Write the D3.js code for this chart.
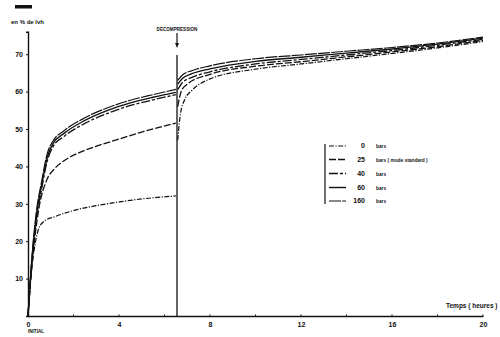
<!DOCTYPE html>
<html><head><meta charset="utf-8">
<script src="https://cdn.jsdelivr.net/npm/d3@7"></script>
<style>
body{margin:0;background:#fff;}
svg{display:block;}
text{font-family:"Liberation Sans",Arial,sans-serif;font-weight:bold;fill:#111;}
</style></head><body>
<svg id="c" width="500" height="337"></svg>
<script>
// ---- data ----
const seriesNames = ["0", "25", "40", "60", "160"];
const seriesUnits = ["bars", "bars  ( mode standard )", "bars", "bars", "bars"];
const decompressionTime = 6.55;
// phase 1 (before decompression)
const p1_0   = [[0,0],[0.12,10],[0.28,18],[0.45,23],[0.7,25.3],[1.2,26.6],[2,28.2],[3,29.5],[4,30.5],[5,31.3],[6.5,32.1]];
const p1_25  = [[0,0],[0.15,12],[0.32,22],[0.5,29.5],[0.8,36],[1.2,39.6],[1.6,41.6],[2,43],[2.5,44.3],[3,45.4],[4,47.3],[5,49.2],[6.5,51.6]];
const p1_40  = [[0,0],[0.15,13],[0.35,25],[0.6,34],[0.85,41.5],[1.1,45.3],[1.6,48.1],[2.5,51.5],[3.5,54.2],[4.5,56.3],[5.5,57.8],[6.5,59.2]];
const p1_60  = [[0,0],[0.15,13.5],[0.35,26],[0.6,35],[0.85,42.5],[1.1,46.1],[1.6,48.9],[2.5,52.3],[3.5,55],[4.5,57],[5.5,58.5],[6.5,59.8]];
const p1_160 = [[0,0],[0.15,14],[0.35,27],[0.6,36],[0.85,43.5],[1.1,46.8],[1.6,49.6],[2.5,53],[3.5,55.7],[4.5,57.7],[5.5,59.2],[6.5,60.6]];
// phase 2 (after decompression)
const p2_0   = [[6.58,47],[6.7,54],[6.9,58],[7.2,60.3],[8,63.4],[10,66],[12,67.4],[14,68.8],[16,70.2],[18,71.7],[20,73.4]];
const p2_25  = [[6.58,56],[6.75,60.3],[7,62],[8,64.6],[10,66.8],[12,68],[14,69.3],[16,70.6],[18,72],[20,73.7]];
const p2_40  = [[6.58,60.5],[6.8,62.5],[7.2,63.8],[8,65.3],[10,67.4],[12,68.6],[14,69.8],[16,71],[18,72.4],[20,74]];
const p2_60  = [[6.58,62],[6.8,63.6],[7.2,64.8],[8,66.1],[10,68.1],[12,69.2],[14,70.3],[16,71.4],[18,72.7],[20,74.3]];
const p2_160 = [[6.58,63],[6.8,64.5],[7.2,65.6],[8,66.9],[10,68.8],[12,69.8],[14,70.8],[16,71.8],[18,73],[20,74.6]];
const phase1 = [p1_0, p1_25, p1_40, p1_60, p1_160];
const phase2 = [p2_0, p2_25, p2_40, p2_60, p2_160];
const xMajorTicks = [0, 4, 8, 12, 16, 20];
const xMinorTicks = [2, 6, 10, 14, 18];
const yTicks = [10, 20, 30, 40, 50, 60, 70];

// ---- drawing ----
const ink = "#111";
const svg = d3.select("#c");
const x = d3.scaleLinear().domain([0, 20]).range([28, 483]);
const y = d3.scaleLinear().domain([0, 76]).range([316, 31.8]);
const dashes = ["5,1.5,1.2,1.5", "7,2", "9,2,3,2", null, "12,1.2"];
const widths = [1.2, 1.3, 1.3, 1.4, 1.2];

function styleText(sel, size) {
  sel.attr("font-size", size).attr("font-family", "Liberation Sans, Arial, sans-serif")
     .attr("font-weight", "bold").attr("fill", ink);
}

// axes
const xAxis = d3.axisBottom(x).tickValues(xMajorTicks).tickSize(0).tickPadding(6).tickFormat(d3.format("d"));
const gx = svg.append("g").attr("transform", `translate(0,${y(0)})`).call(xAxis);
gx.select(".domain").attr("stroke", ink).attr("stroke-width", 1.4);
styleText(gx.selectAll("text"), 7);
gx.selectAll(".minor").data(xMinorTicks.concat(xMajorTicks.slice(1))).enter().append("line")
  .attr("x1", d => x(d)).attr("x2", d => x(d)).attr("y1", -1.5).attr("y2", 0)
  .attr("stroke", ink).attr("stroke-width", 1);

const yAxis = d3.axisLeft(y).tickValues(yTicks).tickSize(2).tickPadding(3).tickFormat(d3.format("d"));
const gy = svg.append("g").attr("transform", `translate(${x(0)},0)`).call(yAxis);
gy.select(".domain").attr("stroke", ink).attr("stroke-width", 1.4);
gy.selectAll("line").attr("stroke", ink);
styleText(gy.selectAll("text"), 7);

// decompression line and arrow
const xd = x(decompressionTime);
svg.append("line").attr("x1", xd).attr("x2", xd).attr("y1", y(0)).attr("y2", 55).attr("stroke", ink).attr("stroke-width", 1.3);
svg.append("line").attr("x1", xd).attr("x2", xd).attr("y1", 33).attr("y2", 45).attr("stroke", ink).attr("stroke-width", 1.2);
svg.append("path").attr("d", `M${xd-2},43 L${xd+2},43 L${xd},48 Z`).attr("fill", ink);
styleText(svg.append("text").attr("x", xd).attr("y", 31).attr("text-anchor", "middle").text("DECOMPRESSION"), 4.6);

// curves
const line = d3.line().x(d => x(d[0])).y(d => y(d[1])).curve(d3.curveMonotoneX);
[phase1, phase2].forEach(ph => {
  ph.forEach((s, i) => {
    svg.append("path").attr("d", line(s)).attr("fill", "none").attr("stroke", ink)
      .attr("stroke-width", widths[i]).attr("stroke-dasharray", dashes[i]);
  });
});

// labels
svg.append("rect").attr("x", 15).attr("y", 5).attr("width", 17).attr("height", 3.5).attr("fill", ink);
styleText(svg.append("text").attr("x", 11).attr("y", 24).text("en % de lvh"), 6);
styleText(svg.append("text").attr("x", x(0)).attr("y", 333).text("INITIAL"), 4.6);
styleText(svg.append("text").attr("x", 446).attr("y", 308).text("Temps ( heures )"), 6.5);

// legend
const lg = svg.append("g");
lg.append("line").attr("x1", 325).attr("x2", 325).attr("y1", 144).attr("y2", 204).attr("stroke", ink).attr("stroke-width", 1.2);
const rowsY = [146, 159.5, 173.5, 187.5, 201];
seriesNames.forEach((n, i) => {
  lg.append("line").attr("x1", 329).attr("x2", 346).attr("y1", rowsY[i]).attr("y2", rowsY[i])
    .attr("stroke", ink).attr("stroke-width", widths[i]).attr("stroke-dasharray", dashes[i]);
  styleText(lg.append("text").attr("x", 365).attr("y", rowsY[i] + 2.3).attr("text-anchor", "end").text(n), 7);
  styleText(lg.append("text").attr("x", 376).attr("y", rowsY[i] + 2).text(seriesUnits[i]), 4.8);
});
</script>
</body></html>
